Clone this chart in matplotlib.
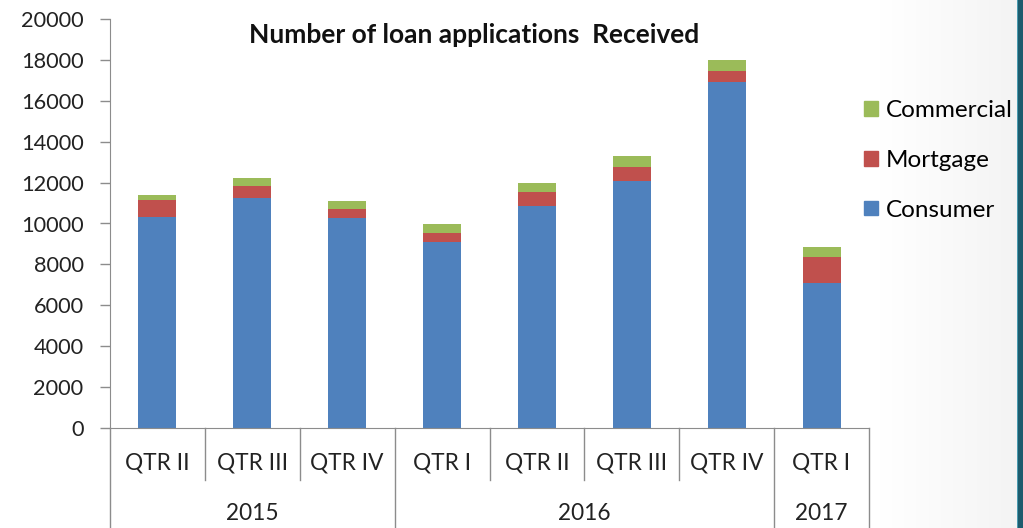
import numpy as np
import matplotlib.pyplot as plt
from matplotlib.patches import Patch, Rectangle
from matplotlib.transforms import blended_transform_factory

plt.rcParams['font.family'] = ['Lato', 'DejaVu Sans']

# данные
quarters = ["QTR II", "QTR III", "QTR IV", "QTR I", "QTR II", "QTR III", "QTR IV", "QTR I"]
years = ["2015", "2016", "2017"]
year_counts = [3, 4, 1]
consumer = [10330, 11260, 10280, 9100, 10860, 12100, 16930, 7100]
mortgage = [830, 590, 410, 420, 660, 650, 540, 1250]
commercial = [250, 360, 410, 460, 440, 550, 530, 490]

c_blue = "#4F81BD"
c_red = "#C0504D"
c_green = "#9BBB59"
grey = "#8c8c8c"

fig = plt.figure(figsize=(10.23, 5.28), dpi=100)
fig.patch.set_facecolor("white")

# фон справа (лёгкий градиент и тёмная полоса)
bg = fig.add_axes([0.86, 0, 0.135, 1], zorder=-5)
grad = np.linspace(1.0, 0.955, 256).reshape(1, -1)
bg.imshow(np.dstack([grad, grad, grad]), aspect="auto", extent=[0, 1, 0, 1])
bg.axis("off")
fig.patches.append(Rectangle((1018 / 1023, 0), 5 / 1023, 1, transform=fig.transFigure,
                             facecolor="#1d5c6e", edgecolor="none", zorder=5))
fig.patches.append(Rectangle((1017 / 1023, 0), 1.2 / 1023, 1, transform=fig.transFigure,
                             facecolor="#4a9bb0", edgecolor="none", zorder=5))

ax = fig.add_axes([110 / 1023, (528 - 428) / 528, (869 - 110) / 1023, 409 / 528])
ax.patch.set_alpha(0)

x = np.arange(len(quarters))
cons = np.array(consumer)
mort = np.array(mortgage)
comm = np.array(commercial)
w = 0.4
ax.bar(x, cons, w, color=c_blue, label="Consumer")
ax.bar(x, mort, w, bottom=cons, color=c_red, label="Mortgage")
ax.bar(x, comm, w, bottom=cons + mort, color=c_green, label="Commercial")

ax.set_xlim(-0.5, len(quarters) - 0.5)
ax.set_ylim(0, 20000)
ax.set_yticks(np.arange(0, 20001, 2000))
ax.tick_params(axis="y", direction="out", length=7, width=1, color=grey,
               labelsize=15.7, labelcolor="#222222", pad=12)
ax.set_xticks([])
for s in ["top", "right"]:
    ax.spines[s].set_visible(False)
ax.spines["left"].set_color(grey)
ax.spines["bottom"].set_color(grey)

# двухуровневые подписи оси X
tr = blended_transform_factory(ax.transData, ax.transAxes)
for i, q in enumerate(quarters):
    ax.text(i, -0.086, q, transform=tr, ha="center", va="center",
            fontsize=16.3, color="#222222")
edges = np.cumsum([0] + year_counts) - 0.5
for k in range(len(quarters) + 1):
    xe = k - 0.5
    y_end = -0.245 if xe in edges else -0.127
    ax.plot([xe, xe], [0, y_end], transform=tr, color=grey, lw=1, clip_on=False)
for yr, a, b in zip(years, edges[:-1], edges[1:]):
    ax.text((a + b) / 2, -0.208, yr, transform=tr, ha="center", va="center",
            fontsize=16.3, color="#222222")

fig.text(474 / 1023, 1 - 35 / 528, "Number of loan applications  Received",
         ha="center", va="center", fontsize=19, fontweight="bold", color="#111111")

handles = [Patch(color=c_green), Patch(color=c_red), Patch(color=c_blue)]
fig.legend(handles, ["Commercial", "Mortgage", "Consumer"],
           loc="upper left", bbox_to_anchor=(852 / 1023, 1 - 88 / 528),
           frameon=False, fontsize=17.5, handlelength=0.55, handleheight=0.55,
           handletextpad=0.33, labelspacing=1.18, borderpad=0)

fig.savefig("out.png", dpi=100)
